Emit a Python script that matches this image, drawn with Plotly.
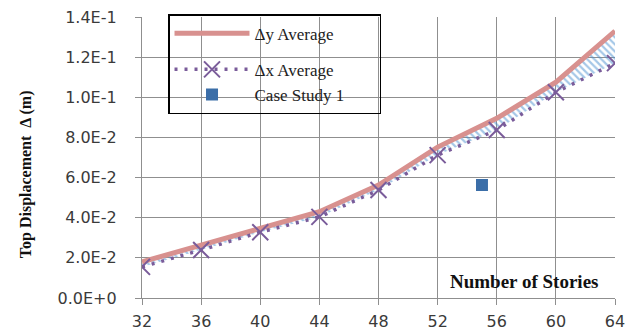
import plotly.graph_objects as go

stories = [32, 36, 40, 44, 48, 52, 56, 60, 64]
dy_avg = [0.0180, 0.0262, 0.0342, 0.0430, 0.0563, 0.0752, 0.0895, 0.1075, 0.1330]
dx_avg = [0.0155, 0.0239, 0.0328, 0.0404, 0.0538, 0.0712, 0.0837, 0.1025, 0.1170]
case_x = [55]
case_y = [0.0563]

ytick_vals = [0, 0.02, 0.04, 0.06, 0.08, 0.10, 0.12, 0.14]
ytick_text = ["0.0E+0", "2.0E-2", "4.0E-2", "6.0E-2", "8.0E-2", "1.0E-1", "1.2E-1", "1.4E-1"]
xtick_vals = stories

PINK = "#d8918f"
PURPLE = "#7a5c9a"
BLUE = "#3b6ea8"
GRID = "#8f8f8f"
PAD = "\u00a0" * 7

fig = go.Figure()
# hatched band between the two averages
fig.add_trace(go.Scatter(x=stories, y=dx_avg, mode="lines", line=dict(width=0),
                         showlegend=False, hoverinfo="skip"))
fig.add_trace(go.Scatter(x=stories, y=dy_avg, mode="lines", line=dict(width=0),
                         fill="tonexty", fillcolor="rgba(0,0,0,0)",
                         fillpattern=dict(shape="\\", fgcolor="#4a8fd0", bgcolor="rgba(0,0,0,0)",
                                          size=5, solidity=0.45),
                         showlegend=False, hoverinfo="skip"))
fig.add_trace(go.Scatter(x=stories, y=dy_avg, mode="lines", name="Δy Average",
                         line=dict(color=PINK, width=5), legendgroup="g1"))
fig.add_trace(go.Scatter(x=stories, y=dx_avg, mode="lines+markers", name="Δx Average",
                         line=dict(color=PURPLE, width=3.5, dash="3px,7px"),
                         marker=dict(symbol="x-thin", size=16, line=dict(color=PURPLE, width=2)),
                         legendgroup="g2"))
fig.add_trace(go.Scatter(x=case_x, y=case_y, mode="markers", name="Case Study 1" + PAD,
                         marker=dict(symbol="square", size=12, color=BLUE),
                         legendgroup="g2"))

fig.update_layout(
    width=628, height=323,
    margin=dict(l=134, r=21, t=9, b=33, autoexpand=False),
    paper_bgcolor="white", plot_bgcolor="white",
    showlegend=True,
    legend=dict(x=0.055, y=1.01, xanchor="left", yanchor="top",
                bgcolor="rgba(0,0,0,0)", bordercolor="black", borderwidth=1.5,
                font=dict(family="Liberation Serif", size=17, color="#222"),
                itemwidth=75, tracegroupgap=11, traceorder="grouped"),
    xaxis=dict(range=[32, 64], tickvals=xtick_vals, showgrid=True, gridcolor=GRID, gridwidth=1.3,
               showline=True, linecolor=GRID, linewidth=1.3, ticks="outside", ticklen=6,
               tickcolor=GRID, tickwidth=1.3, zeroline=False, automargin=False,
               ticklabelstandoff=3, ticklabeloverflow="allow",
               tickfont=dict(family="DejaVu Sans", size=16, color="#3a3a3a")),
    yaxis=dict(range=[0, 0.14], tickvals=ytick_vals, ticktext=ytick_text, showgrid=True,
               gridcolor=GRID, gridwidth=1.3, showline=True, linecolor=GRID, linewidth=1.3,
               ticks="outside", ticklen=6, tickcolor=GRID, tickwidth=1.3, zeroline=False,
               ticklabelstandoff=15, automargin=False, ticklabeloverflow="allow",
               tickfont=dict(family="DejaVu Sans", size=16, color="#3a3a3a")),
    annotations=[
        dict(text="<b>Top Displacement  Δ (m)</b>", textangle=-90, xref="paper", yref="paper",
             x=-0.245, y=0.441, xanchor="center", yanchor="middle", showarrow=False,
             font=dict(family="Liberation Serif", size=16, color="#111")),
        dict(text="<b>Number of Stories</b>", xref="paper", yref="paper",
             x=0.808, y=0.057, xanchor="center", yanchor="middle", showarrow=False,
             font=dict(family="Liberation Serif", size=19, color="#111")),
    ],
)

fig.write_html("out.html")
